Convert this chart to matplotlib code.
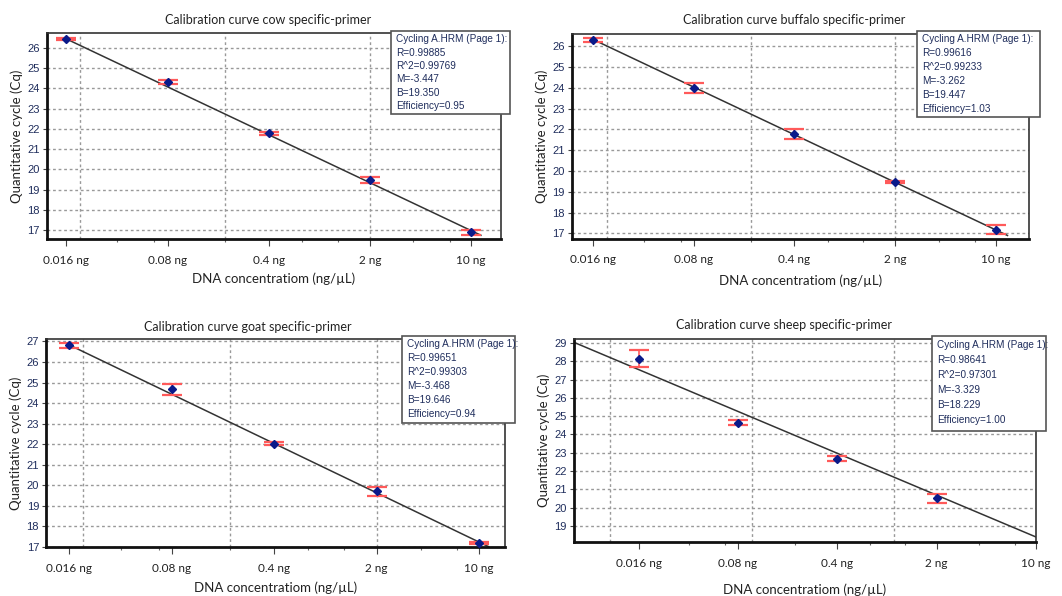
import matplotlib
matplotlib.use('Agg')
import matplotlib.pyplot as plt
from matplotlib.patches import Rectangle

W, H = 1062, 596

# data
conc = [0.016, 0.08, 0.4, 2, 10]
x_labels = ['0.016 ng', '0.08 ng', '0.4 ng', '2 ng', '10 ng']
minor_x = [0.036, 0.065, 0.2, 0.68, 1.2, 4, 7.1]

cow_cq = [26.44, 24.30, 21.79, 19.46, 16.88]
cow_err = [0.05, 0.10, 0.07, 0.15, 0.14]
cow_fit_x = [0.0158, 11.7]
cow_fit_y = [26.47, 16.74]
cow_stats = ['Cycling A.HRM (Page 1):', 'R=0.99885', 'R^2=0.99769', 'M=-3.447', 'B=19.350', 'Efficiency=0.95']

buffalo_cq = [26.30, 23.97, 21.78, 19.46, 17.18]
buffalo_err = [0.10, 0.24, 0.24, 0.06, 0.23]
buffalo_fit_x = [0.016, 12.0]
buffalo_fit_y = [26.32, 16.90]
buffalo_stats = ['Cycling A.HRM (Page 1):', 'R=0.99616', 'R^2=0.99233', 'M=-3.262', 'B=19.447', 'Efficiency=1.03']

goat_cq = [26.81, 24.66, 22.02, 19.69, 17.18]
goat_err = [0.12, 0.29, 0.065, 0.24, 0.07]
goat_fit_x = [0.016, 11.6]
goat_fit_y = [26.83, 17.00]
goat_stats = ['Cycling A.HRM (Page 1):', 'R=0.99651', 'R^2=0.99303', 'M=-3.468', 'B=19.646', 'Efficiency=0.94']

sheep_conc = [0.016, 0.08, 0.4, 2]
sheep_cq = [28.14, 24.64, 22.67, 20.51]
sheep_err = [0.48, 0.14, 0.13, 0.25]
sheep_fit_x = [0.00558, 10]
sheep_fit_y = [29.04, 18.40]
sheep_stats = ['Cycling A.HRM (Page 1):', 'R=0.98641', 'R^2=0.97301', 'M=-3.329', 'B=18.229', 'Efficiency=1.00']

panels = [
    # box / leg are pixel rects (L, R, T, B); ty, tx, ly pixel positions of title and x label
    dict(name='cow', x=conc, y=cow_cq, err=cow_err, fx=cow_fit_x, fy=cow_fit_y, stats=cow_stats,
         box=(46.7, 501, 33.3, 239.3), xlim=(0.0117, 16.1), ylim=(16.54, 26.73), yt=range(17, 27),
         xgrid=[0.02, 0.2, 2], leg=(391, 510, 30.7, 114), step=13.4, ty=20, ly=279, tx=268),
    dict(name='buffalo', x=conc, y=buffalo_cq, err=buffalo_err, fx=buffalo_fit_x, fy=buffalo_fit_y, stats=buffalo_stats,
         box=(571.7, 1029.3, 34, 239), xlim=(0.0114, 17), ylim=(16.73, 26.58), yt=range(17, 27),
         xgrid=[0.02, 0.2, 2], leg=(916.7, 1040, 31, 117), step=13.9, ty=20, ly=281, tx=794),
    dict(name='goat', x=conc, y=goat_cq, err=goat_err, fx=goat_fit_x, fy=goat_fit_y, stats=goat_stats,
         box=(46, 505, 339, 547.3), xlim=(0.0111, 15), ylim=(16.97, 27.12), yt=range(17, 28),
         xgrid=[0.02, 0.2, 2], leg=(402, 515, 335.7, 423.3), step=14.0, ty=327, tx=248, ly=588),
    dict(name='sheep', x=sheep_conc, y=sheep_cq, err=sheep_err, fx=sheep_fit_x, fy=sheep_fit_y, stats=sheep_stats,
         box=(573.7, 1036, 339.3, 542.3), xlim=(0.00558, 10), ylim=(18.11, 29.2), yt=range(19, 30),
         xgrid=[0.01, 0.1, 1], leg=(931.7, 1046, 336.3, 430.7), step=15.1, ty=325, tx=784, ly=590),
]

title_font = 'Lato'
num_font = 'Liberation Sans'
navy = '#1f2d5c'

fig = plt.figure(figsize=(W / 100, H / 100), dpi=100)


def fx_(px):
    return px / W


def fy_(py):
    return 1 - py / H


for p in panels:
    L, R, T, B = p['box']
    ax = fig.add_axes([fx_(L), fy_(B), (R - L) / W, (B - T) / H])
    ax.set_xscale('log')
    ax.set_xlim(*p['xlim'])
    ax.set_ylim(*p['ylim'])

    # grid
    for g in p['xgrid']:
        ax.axvline(g, color='#999999', lw=1, ls=(0, (2, 2)), zorder=0)
    for yv in p['yt']:
        ax.axhline(yv, color='#999999', lw=1, ls=(0, (2, 2)), zorder=0)

    ax.plot(p['fx'], p['fy'], color='#333333', lw=1.1, zorder=2)
    ax.errorbar(p['x'], p['y'], yerr=p['err'], fmt='none', ecolor='#ff5a5a',
                elinewidth=1.2, capsize=7, capthick=1.6, zorder=3)
    ax.plot(p['x'], p['y'], 'D', color='#0a1a8a', ms=3.8, zorder=4)

    ax.set_xticks(conc)
    ax.set_xticklabels(x_labels, fontfamily=title_font, fontsize=8.5, color='#222222')
    ax.set_xticks(minor_x, minor=True)
    ax.set_xticklabels([], minor=True)
    ax.set_yticks(list(p['yt']))
    ax.set_yticklabels([str(v) for v in p['yt']], fontfamily=num_font, fontsize=8, color=navy)
    ax.tick_params(axis='x', which='major', length=5, width=0.8, pad=6, color='#444444')
    ax.tick_params(axis='x', which='minor', length=2.5, width=0.8, color='#666666')
    ax.tick_params(axis='y', length=3, width=0.8, pad=2, color='#444444')

    for side in ['left', 'bottom']:
        ax.spines[side].set_linewidth(2)
        ax.spines[side].set_color('#111111')
    for side in ['top', 'right']:
        ax.spines[side].set_linewidth(1.2)
        ax.spines[side].set_color('#333333')

    # titles / labels
    fig.text(fx_(p['tx']), fy_(p['ty']), 'Calibration curve %s specific-primer' % p['name'],
             ha='center', va='center', fontfamily=title_font, fontsize=9, color='#222222')
    fig.text(fx_((L + R) / 2), fy_(p['ly']), 'DNA concentratiom (ng/\u00b5L)',
             ha='center', va='center', fontfamily=title_font, fontsize=9.5, color='#222222')
    fig.text(fx_(L - 30), fy_((T + B) / 2), 'Quantitative cycle (Cq)', rotation=90,
             ha='center', va='center', fontfamily=title_font, fontsize=9.5, color='#222222')

    # stats box
    x0, x1, y0, y1 = p['leg']
    fig.patches.append(Rectangle((fx_(x0), fy_(y1)), (x1 - x0) / W, (y1 - y0) / H,
                                 transform=fig.transFigure, facecolor='white',
                                 edgecolor='#555555', lw=1.2, zorder=5))
    for i, s in enumerate(p['stats']):
        fig.text(fx_(x0 + 5), fy_(y0 + 8.5 + i * p['step']), s, ha='left', va='center',
                 fontfamily=num_font, fontsize=7.2, color=navy, zorder=6)

fig.savefig('out.png', dpi=100)
